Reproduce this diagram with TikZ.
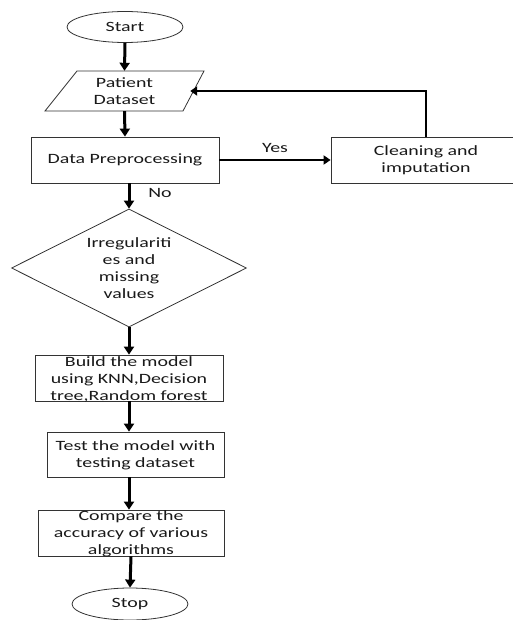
\documentclass[tikz,border=0pt]{standalone}
\usepackage{fontspec}
\setmainfont{Carlito}[FakeStretch=1.4]
\usetikzlibrary{shapes.geometric,arrows.meta}
\begin{document}
\begin{tikzpicture}[x=1pt,y=-1pt,
  box/.style={draw=black!80,line width=0.8pt,rectangle,inner sep=0pt},
  term/.style={box,ellipse,minimum width=116pt,minimum height=31pt},
  txt/.style={align=center,font=\fontsize{14.2}{17}\selectfont,inner sep=0pt,text=black!90},
  flow/.style={line width=3pt,-{Triangle[width=10pt,length=8pt]}},
  thinflow/.style={line width=2pt,-{Triangle[width=9pt,length=7pt]}},
]
\useasboundingbox (0,0) rectangle (512,620);
% terminals
\node[term] (start) at (125,27) {};
\node[txt] (tstart) at (start) {Start};
% parallelogram
\draw[draw=black!80,line width=0.8pt] (77,71) -- (204,71) -- (183,111) -- (45,111) -- cycle;
\node[draw=none,minimum width=131pt,minimum height=40pt,inner sep=0pt] (pd) at (124.5,91) {};
\node[txt] (tpd) at (124.5,91.5) {Patient\\Dataset};
% boxes
\node[box,minimum width=188pt,minimum height=46pt] (dp) at (125,160) {};
\node[txt] (tdp) at (dp) {Data Preprocessing};
\node[box,minimum width=190pt,minimum height=46pt] (clean) at (426,160) {};
\node[txt] (tclean) at (clean) {Cleaning and\\imputation};
\node[box,shape=diamond,shape aspect=2,minimum width=235pt,minimum height=118pt] (dia) at (129,268) {};
\node[txt] (tdia) at (dia) {Irregulariti\\es and\\missing\\values};
\node[box,minimum width=188pt,minimum height=46pt] (build) at (129,378) {};
\node[txt] (tbuild) at (129,379) {Build the model\\using KNN,Decision\\tree,Random forest};
\node[box,minimum width=177pt,minimum height=45pt] (test) at (135.5,454.5) {};
\node[txt] (ttest) at (135.5,455.5) {Test the model with\\testing dataset};
\node[box,minimum width=186pt,minimum height=46pt] (cmp) at (131,533) {};
\node[txt] (tcmp) at (131,534) {Compare the\\accuracy of various\\algorithms};
\node[term,minimum height=32pt] (stop) at (130,604) {};
\node[txt] (tstop) at (stop) {Stop};
% connectors
\draw[flow] (start.south) -- (pd.north);
\draw[flow] (pd.south) -- (dp.north);
\draw[thinflow] (dp.east) -- node[txt,above=6pt] (lyes) {Yes} (clean.west);
\draw[line width=2.5pt,-{Triangle[width=9pt,length=7pt]}] (clean.north) |- (pd.east);
\draw[flow] (dp.south -| dia.north) -- (dia.north);
\node[txt] (lno) at (160,193) {No};
\draw[flow] (dia.south) -- (build.north);
\draw[flow] (build.south) -- (build.south |- test.north);
\draw[flow] (build.south |- test.south) -- (build.south |- cmp.north);
\draw[flow] (cmp.south) -- (stop.north);
\end{tikzpicture}
\end{document}
